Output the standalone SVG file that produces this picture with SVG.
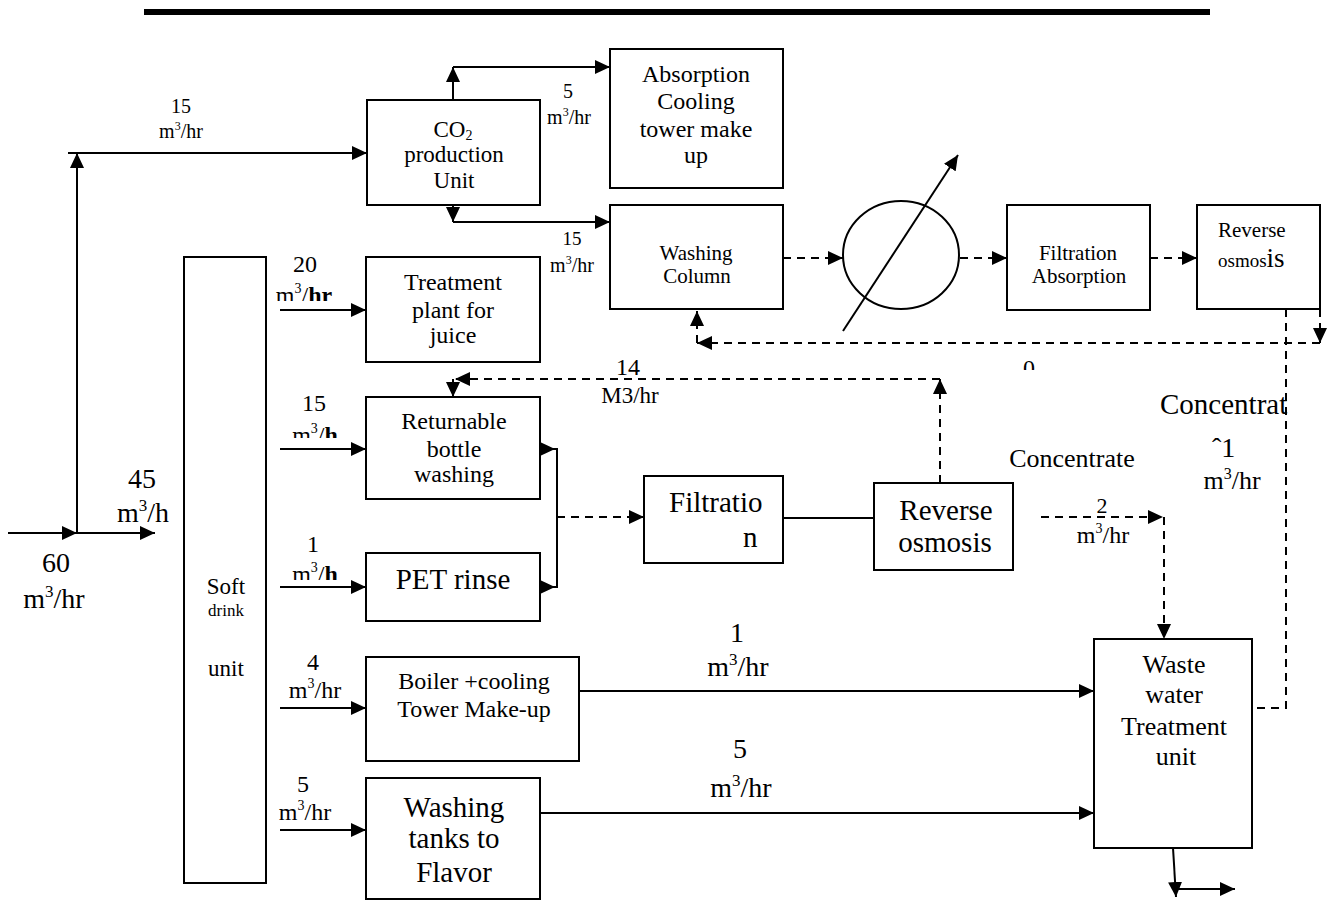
<svg xmlns="http://www.w3.org/2000/svg" width="1334" height="900" viewBox="0 0 1334 900">
<style>
text{font-family:"Liberation Serif","Times New Roman",serif;fill:#000}
.box{fill:#fff;stroke:#000;stroke-width:2}
.ln{fill:none;stroke:#000;stroke-width:2}
.ds{fill:none;stroke:#000;stroke-width:2;stroke-dasharray:8 6}
.m{text-anchor:middle}
</style>
<defs>
<marker id="ah" markerUnits="userSpaceOnUse" markerWidth="16" markerHeight="14" refX="15" refY="7" orient="auto">
<path d="M0,0 L15,7 L0,14 z" fill="#000"/>
</marker>
<clipPath id="c20"><rect x="260" y="240" width="100" height="61"/></clipPath>
<clipPath id="c15"><rect x="260" y="400" width="100" height="38"/></clipPath>
<clipPath id="c1"><rect x="260" y="540" width="100" height="40"/></clipPath>
<clipPath id="c9"><rect x="1000" y="350" width="60" height="20"/></clipPath>
</defs>

<rect x="144" y="9" width="1066" height="6" fill="#000"/>

<g id="connectors">
<path class="ln" d="M8,533 H77" marker-end="url(#ah)"/>
<path class="ln" d="M77,533 H155" marker-end="url(#ah)"/>
<path class="ln" d="M77,533 V153" marker-end="url(#ah)"/>
<path class="ln" d="M68,153 H367" marker-end="url(#ah)"/>
<path class="ln" d="M453,100 V67" marker-end="url(#ah)"/>
<path class="ln" d="M453,67 H610" marker-end="url(#ah)"/>
<path class="ln" d="M453,205 V222" marker-end="url(#ah)"/>
<path class="ln" d="M453,222 H610" marker-end="url(#ah)"/>
<path class="ds" d="M783,258 H843" marker-end="url(#ah)"/>
<path class="ds" d="M960,258 H1007" marker-end="url(#ah)"/>
<path class="ds" d="M1150,258 H1197" marker-end="url(#ah)"/>
<polygon points="1304,251 1318,258 1304,265" fill="#000"/>
<path class="ln" d="M843,331 L958,155" marker-end="url(#ah)"/>
<path class="ds" d="M1320,309 V343" marker-end="url(#ah)"/>
<path class="ds" d="M1320,343 H697" marker-end="url(#ah)"/>
<path class="ds" d="M697,343 V311" marker-end="url(#ah)"/>
<path class="ds" d="M1286,309 V708 H1252"/>
<path class="ln" d="M280,310 H366" marker-end="url(#ah)"/>
<path class="ln" d="M280,449 H366" marker-end="url(#ah)"/>
<path class="ln" d="M280,587 H366" marker-end="url(#ah)"/>
<path class="ln" d="M280,708 H366" marker-end="url(#ah)"/>
<path class="ln" d="M280,830 H366" marker-end="url(#ah)"/>
<polygon points="540,442 555,449 540,456" fill="#000"/>
<polygon points="540,580 555,587 540,594" fill="#000"/>
<path class="ln" d="M541,449 H557 V587 H541"/>
<path class="ds" d="M557,517 H644" marker-end="url(#ah)"/>
<path class="ln" d="M783,518 H888"/>
<path class="ds" d="M940,483 V379" marker-end="url(#ah)"/>
<path class="ds" d="M940,379 H455" marker-end="url(#ah)"/>
<path class="ln" d="M453,379 V397" marker-end="url(#ah)"/>
<path class="ds" d="M1041,517 H1163" marker-end="url(#ah)"/>
<path class="ds" d="M1164,517 V639" marker-end="url(#ah)"/>
<path class="ln" d="M579,691 H1094" marker-end="url(#ah)"/>
<path class="ln" d="M540,813 H1094" marker-end="url(#ah)"/>
<path class="ln" d="M1173,848 L1176,897" marker-end="url(#ah)"/>
<path class="ln" d="M1176,889 H1235" marker-end="url(#ah)"/>
</g>

<g id="labels">
<text class="m" x="56" y="572" font-size="28">60</text>
<text class="m" x="54" y="608" font-size="28">m<tspan font-size="17" dy="-11">3</tspan><tspan dy="11">/hr</tspan></text>
<text class="m" x="142" y="488" font-size="28">45</text>
<text class="m" x="143" y="522" font-size="28">m<tspan font-size="17" dy="-11">3</tspan><tspan dy="11">/h</tspan></text>
<text class="m" x="181" y="113" font-size="20">15</text>
<text class="m" x="181" y="138" font-size="20">m<tspan font-size="12" dy="-8">3</tspan><tspan dy="8">/hr</tspan></text>
<text class="m" x="568" y="98" font-size="20">5</text>
<text class="m" x="569" y="124" font-size="20">m<tspan font-size="12" dy="-8">3</tspan><tspan dy="8">/hr</tspan></text>
<text class="m" x="572" y="245" font-size="19">15</text>
<text class="m" x="572" y="272" font-size="20">m<tspan font-size="12" dy="-8">3</tspan><tspan dy="8">/hr</tspan></text>
<text class="m" x="305" y="272" font-size="24">20</text>
<text class="m" x="304" y="303" font-size="24" clip-path="url(#c20)">m<tspan font-size="14" dy="-10">3</tspan><tspan dy="10">/</tspan><tspan font-weight="bold">hr</tspan></text>
<text class="m" x="314" y="411" font-size="24">15</text>
<text class="m" x="315" y="443" font-size="24" clip-path="url(#c15)">m<tspan font-size="14" dy="-10">3</tspan><tspan dy="10">/</tspan><tspan font-weight="bold">h</tspan></text>
<text class="m" x="313" y="552" font-size="24">1</text>
<text class="m" x="315" y="582" font-size="24" clip-path="url(#c1)">m<tspan font-size="14" dy="-10">3</tspan><tspan dy="10">/</tspan><tspan font-weight="bold">h</tspan></text>
<text class="m" x="313" y="670" font-size="24">4</text>
<text class="m" x="315" y="698" font-size="24">m<tspan font-size="14" dy="-10">3</tspan><tspan dy="10">/hr</tspan></text>
<text class="m" x="303" y="792" font-size="24">5</text>
<text class="m" x="305" y="820" font-size="24">m<tspan font-size="14" dy="-10">3</tspan><tspan dy="10">/hr</tspan></text>
<text class="m" x="737" y="642" font-size="28">1</text>
<text class="m" x="738" y="676" font-size="28">m<tspan font-size="17" dy="-11">3</tspan><tspan dy="11">/hr</tspan></text>
<text class="m" x="740" y="758" font-size="28">5</text>
<text class="m" x="741" y="797" font-size="28">m<tspan font-size="17" dy="-11">3</tspan><tspan dy="11">/hr</tspan></text>
<text class="m" x="628" y="375" font-size="24">14</text>
<text class="m" x="630" y="403" font-size="23">M3/hr</text>
<text class="m" x="1029" y="376" font-size="24" clip-path="url(#c9)">0</text>
<text class="m" x="1072" y="467" font-size="26">Concentrate</text>
<text x="1160" y="414" font-size="29">Concentrat</text>
<text x="1212" y="457" font-size="28">ˆ1</text>
<text class="m" x="1232" y="489" font-size="26">m<tspan font-size="16" dy="-10">3</tspan><tspan dy="10">/hr</tspan></text>
<text class="m" x="1102" y="513" font-size="22">2</text>
<text class="m" x="1103" y="543" font-size="24">m<tspan font-size="14" dy="-10">3</tspan><tspan dy="10">/hr</tspan></text>
</g>

<g id="soft-drink-unit">
<rect class="box" x="184" y="257" width="82" height="626"/>
<text class="m" x="226" y="594" font-size="23">Soft</text>
<text class="m" x="226" y="616" font-size="17">drink</text>
<text class="m" x="226" y="676" font-size="23">unit</text>
</g>
<g id="co2-production">
<rect class="box" x="367" y="100" width="173" height="105"/>
<text class="m" x="453" y="137" font-size="23">CO<tspan font-size="14" dy="3">2</tspan></text>
<text class="m" x="454" y="162" font-size="23">production</text>
<text class="m" x="454" y="188" font-size="23">Unit</text>
</g>
<g id="absorption-cooling">
<rect class="box" x="610" y="49" width="173" height="139"/>
<text class="m" x="696" y="82" font-size="24">Absorption</text>
<text class="m" x="696" y="109" font-size="24">Cooling</text>
<text class="m" x="696" y="137" font-size="24">tower make</text>
<text class="m" x="696" y="163" font-size="24">up</text>
</g>
<g id="washing-column">
<rect class="box" x="610" y="205" width="173" height="104"/>
<text class="m" x="696" y="260" font-size="21">Washing</text>
<text class="m" x="697" y="283" font-size="21">Column</text>
</g>
<g id="heat-exchanger">
<ellipse class="ln" cx="901" cy="255" rx="58" ry="54"/>
</g>
<g id="filtration-absorption">
<rect class="box" x="1007" y="205" width="143" height="105"/>
<text class="m" x="1078" y="260" font-size="21">Filtration</text>
<text class="m" x="1079" y="283" font-size="21">Absorption</text>
</g>
<g id="reverse-osmosis-1">
<rect class="box" x="1197" y="205" width="123" height="104"/>
<text x="1218" y="237" font-size="21">Reverse</text>
<text x="1218" y="267" font-size="19">osmos<tspan font-size="27">is</tspan></text>
</g>
<g id="treatment-juice">
<rect class="box" x="366" y="257" width="174" height="105"/>
<text class="m" x="453" y="290" font-size="24">Treatment</text>
<text class="m" x="453" y="318" font-size="24">plant for</text>
<text class="m" x="453" y="343" font-size="24">juice</text>
</g>
<g id="returnable-bottle">
<rect class="box" x="366" y="397" width="174" height="102"/>
<text class="m" x="454" y="429" font-size="24">Returnable</text>
<text class="m" x="454" y="457" font-size="24">bottle</text>
<text class="m" x="454" y="482" font-size="24">washing</text>
</g>
<g id="pet-rinse">
<rect class="box" x="366" y="553" width="174" height="68"/>
<text class="m" x="453" y="589" font-size="29">PET rinse</text>
</g>
<g id="filtration">
<rect class="box" x="644" y="476" width="139" height="87"/>
<text x="669" y="512" font-size="29">Filtratio</text>
<text x="743" y="547" font-size="29">n</text>
</g>
<g id="reverse-osmosis-2">
<rect class="box" x="874" y="483" width="139" height="87"/>
<text class="m" x="946" y="520" font-size="29">Reverse</text>
<text class="m" x="945" y="552" font-size="29">osmosis</text>
</g>
<g id="boiler-cooling">
<rect class="box" x="366" y="657" width="213" height="104"/>
<text class="m" x="474" y="689" font-size="24">Boiler +cooling</text>
<text class="m" x="474" y="717" font-size="24">Tower Make-up</text>
</g>
<g id="washing-tanks">
<rect class="box" x="366" y="778" width="174" height="121"/>
<text class="m" x="454" y="817" font-size="29">Washing</text>
<text class="m" x="454" y="848" font-size="29">tanks to</text>
<text class="m" x="454" y="882" font-size="29">Flavor</text>
</g>
<g id="waste-water-treatment">
<rect class="box" x="1094" y="639" width="158" height="209"/>
<text class="m" x="1174" y="673" font-size="26">Waste</text>
<text class="m" x="1174" y="703" font-size="26">water</text>
<text class="m" x="1174" y="735" font-size="26">Treatment</text>
<text class="m" x="1176" y="765" font-size="26">unit</text>
</g>
</svg>
